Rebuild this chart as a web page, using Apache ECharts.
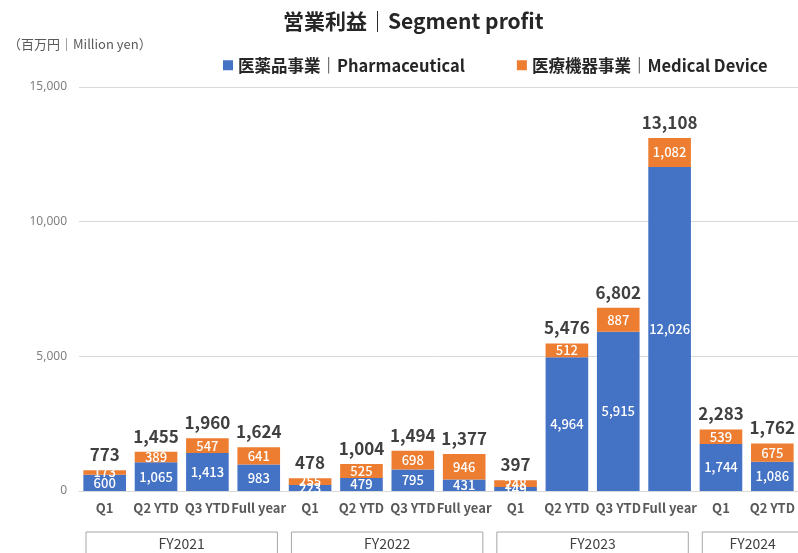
<!DOCTYPE html>
<html>
<head>
<meta charset="utf-8">
<script src="https://cdn.jsdelivr.net/npm/echarts@6/dist/echarts.min.js"></script>
<style>
  html, body { margin: 0; padding: 0; background: #fff; overflow: hidden; }
  #main { width: 798px; height: 553px; }
</style>
</head>
<body>
<div id="main"></div>
<script>
const categories = ['Q1', 'Q2 YTD', 'Q3 YTD', 'Full year', 'Q1', 'Q2 YTD', 'Q3 YTD', 'Full year',
  'Q1', 'Q2 YTD', 'Q3 YTD', 'Full year', 'Q1', 'Q2 YTD']
const pharma = [600, 1065, 1413, 983, 223, 479, 795, 431, 149, 4964, 5915, 12026, 1744, 1086]
const device = [173, 389, 547, 641, 255, 525, 698, 946, 248, 512, 887, 1082, 539, 675]
const totals = [773, 1455, 1960, 1624, 478, 1004, 1494, 1377, 397, 5476, 6802, 13108, 2283, 1762]
const groupNames = ['FY2021', 'FY2022', 'FY2023', 'FY2024']
const groupStart = [0, 4, 8, 12]
const groupSize = [4, 4, 4, 2]

const FONT = '"Noto Sans CJK JP", "Noto Sans", sans-serif'
const fmt = (v) => v.toLocaleString('en-US')

const chart = echarts.init(document.getElementById('main'))

const segLabel = {
  show: true,
  position: 'inside',
  color: '#fff',
  fontSize: 13,
  fontWeight: 500,
  fontFamily: FONT,
  formatter: (p) => fmt(p.value),
}

const unitText = {
  type: 'text',
  left: 8,
  top: 38,
  style: { text: '（百万円｜Million yen）', fontSize: 13, fill: '#595959', fontFamily: FONT },
}

chart.setOption({
  animation: false,
  textStyle: { fontFamily: FONT },
  title: {
    text: '営業利益｜Segment profit',
    left: 278,
    top: 6,
    textStyle: { fontSize: 21, fontWeight: 'bold', color: '#262626', fontFamily: FONT },
  },
  legend: {
    data: ['医薬品事業｜Pharmaceutical', '医療機器事業｜Medical Device'],
    left: 218,
    top: 52,
    icon: 'rect',
    itemWidth: 10,
    itemHeight: 10,
    itemGap: 52,
    textStyle: { fontSize: 16.5, fontWeight: 'bold', color: '#262626', fontFamily: FONT },
  },
  grid: {
    left: 79,
    width: 723,
    top: 87,
    bottom: 62,
  },
  xAxis: {
    type: 'category',
    data: categories,
    axisLine: { lineStyle: { color: '#d9d9d9' } },
    axisTick: { show: false },
    axisLabel: { color: '#595959', fontSize: 13, fontWeight: 'bold', margin: 11, interval: 0, fontFamily: FONT },
  },
  yAxis: {
    type: 'value',
    min: 0,
    max: 15000,
    interval: 5000,
    axisLine: { show: false },
    axisTick: { show: false },
    axisLabel: { color: '#7f7f7f', fontSize: 12, margin: 12, formatter: (v) => fmt(v), fontFamily: '"Noto Sans", sans-serif' },
    splitLine: { lineStyle: { color: '#d9d9d9' } },
  },
  series: [
    {
      name: '医薬品事業｜Pharmaceutical',
      type: 'bar',
      stack: 'seg',
      barCategoryGap: '17%',
      itemStyle: { color: '#4472c4' },
      label: segLabel,
      data: pharma,
    },
    {
      name: '医療機器事業｜Medical Device',
      type: 'bar',
      stack: 'seg',
      itemStyle: { color: '#ed7d31' },
      label: segLabel,
      data: device,
    },
    {
      name: 'total',
      type: 'bar',
      barGap: '-100%',
      barCategoryGap: '17%',
      silent: true,
      itemStyle: { color: 'rgba(0,0,0,0)' },
      label: {
        show: true,
        position: 'top',
        distance: 7,
        color: '#404040',
        fontSize: 17,
        fontWeight: 'bold',
        fontFamily: FONT,
        formatter: (p) => fmt(p.value),
      },
      data: totals,
      z: 1,
    },
  ],
})

// group boxes under the category labels, placed from the category axis
const c0 = chart.convertToPixel({ xAxisIndex: 0 }, 0)
const c1 = chart.convertToPixel({ xAxisIndex: 0 }, 1)
const band = c1 - c0
const boxes = []
groupNames.forEach((name, i) => {
  const x0 = c0 - band / 2 + groupStart[i] * band + 7
  let x1 = c0 - band / 2 + (groupStart[i] + groupSize[i]) * band - 7
  if (i === groupNames.length - 1) x1 += 12
  boxes.push({
    type: 'rect',
    shape: { x: x0, y: 532, width: x1 - x0, height: 40 },
    style: { fill: 'none', stroke: '#a6a6a6', lineWidth: 1 },
  })
  boxes.push({
    type: 'text',
    x: (x0 + x1) / 2,
    y: 537,
    style: { text: name, fontSize: 14, fill: '#404040', textAlign: 'center', fontFamily: FONT },
  })
})
chart.setOption({ graphic: [unitText].concat(boxes) })
</script>
</body>
</html>
